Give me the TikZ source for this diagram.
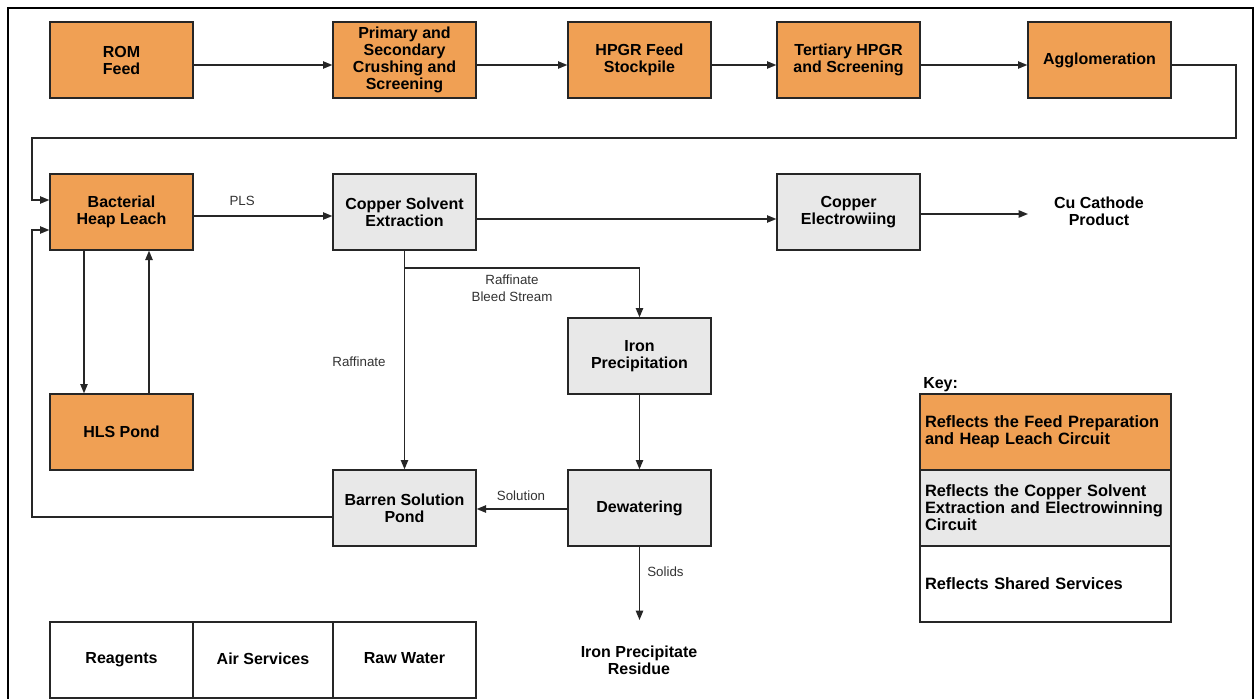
\documentclass[tikz,border=0pt]{standalone}
\usepackage{fontspec}
\setmainfont{Liberation Sans}
\usetikzlibrary{arrows.meta}
\definecolor{orng}{HTML}{F0A054}
\definecolor{lgray}{HTML}{E8E8E8}
\definecolor{lbl}{HTML}{333333}
\begin{document}
\begin{tikzpicture}[x=0.75pt,y=-0.75pt,
 box/.style={draw=black!85, line width=1pt, minimum width=107.25pt, minimum height=57pt, inner sep=0pt, align=center, font=\bfseries\fontsize{12}{12.75}\selectfont},
 ob/.style={box, fill=orng},
 gb/.style={box, fill=lgray},
 wb/.style={box, fill=white},
 keybox/.style={box, minimum width=188.25pt, text width=180.75pt, align=left, font=\bfseries\fontsize{12.3}{12.75}\selectfont},
 txt/.style={align=center, inner sep=0pt, font=\bfseries\fontsize{12}{12.75}\selectfont},
 lab/.style={inner sep=0pt, text=lbl, font=\fontsize{10}{12.75}\selectfont, align=center},
 flow/.style={draw=black!85, line width=1.05pt},
 arr/.style={flow, -{Triangle[length=7pt,width=5.5pt]}},
]
\useasboundingbox (0,0) rectangle (1256,699);
\clip (0,0) rectangle (1256,699);
\fill[white] (0,0) rectangle (1256,699);
\draw[line width=2pt] (8,720) -- (8,8) -- (1253,8) -- (1253,720);

% top row
\node[ob] (rom)  at (121.5,60) {ROM\\Feed};
\node[ob] (prim) at (404.5,60) {Primary and\\Secondary\\Crushing and\\Screening};
\node[ob] (hpgr) at (639.5,60) {HPGR Feed\\Stockpile};
\node[ob] (ter)  at (848.5,60) {Tertiary HPGR\\and Screening};
\node[ob] (agg)  at (1099.5,60) {Agglomeration};

% second row
\node[ob] (bact) at (121.5,212) {Bacterial\\Heap Leach};
\node[gb] (cse)  at (404.5,212) {Copper Solvent\\Extraction};
\node[gb] (cew)  at (848.5,212) {Copper\\Electrowiing};
\node[txt] (cu)  at (1099,211) {Cu Cathode\\Product};

\node[gb] (iron) at (639.5,356) {Iron\\Precipitation};
\node[ob] (hls)  at (121.5,432) {HLS Pond};
\node[gb] (bar)  at (404.5,508) {Barren Solution\\Pond};
\node[gb] (dew)  at (639.5,508) {Dewatering};
\node[txt] (res) at (639,660) {Iron Precipitate\\Residue};

% services
\node[wb, minimum width=107.25pt] (rea) at (121.5,660) {Reagents\vphantom{W}};
\node[wb, minimum width=105pt] (air) at (263,660) {Air Services\vphantom{g}};
\node[wb, minimum width=107.25pt] (raw) at (404.5,660) {Raw Water\vphantom{g}};

% key
\node[txt, anchor=west] (keyl) at (923,385) {Key:};
\node[keybox, fill=orng] (k1) at (1045.5,432) {Reflects the Feed Preparation\\and Heap Leach Circuit};
\node[keybox, fill=lgray] (k2) at (1045.5,508) {Reflects the Copper Solvent\\Extraction and Electrowinning\\Circuit};
\node[keybox, fill=white] (k3) at (1045.5,584) {Reflects Shared Services};

% helper coordinates
\coordinate (ytop) at (0,65);
\coordinate (ypls) at (0,216);
\coordinate (yext) at (0,219);
\coordinate (ycu) at (0,214);
\coordinate (y200) at (0,200);
\coordinate (y230) at (0,230);
\coordinate (y509) at (0,509);
\coordinate (y517) at (0,517);
\coordinate (xa) at (84,0);
\coordinate (xb) at (149,0);
\coordinate (xl) at (32,0);
\coordinate (a1) at (1236,65);
\coordinate (a2) at (1236,138);
\coordinate (a3) at (32,138);
\coordinate (cuin) at (1028,214);
\coordinate (br) at (405,268);
\coordinate (sol) at (639.5,620);

% top row flows
\draw[arr] (rom.east |- ytop) -- (prim.west |- ytop);
\draw[arr] (prim.east |- ytop) -- (hpgr.west |- ytop);
\draw[arr] (hpgr.east |- ytop) -- (ter.west |- ytop);
\draw[arr] (ter.east |- ytop) -- (agg.west |- ytop);
\draw[arr] (agg.east |- ytop) -- (a1) -- (a2) -- (a3) -- (xl |- y200) -- (bact.west |- y200);

% leach
\draw[arr] (bact.east |- ypls) -- node[lab, above=7pt, pos=0.35] {PLS} (cse.west |- ypls);
\draw[arr] (cse.east |- yext) -- (cew.west |- yext);
\draw[arr] (cew.east |- ycu) -- (cuin);
\draw[arr] (bact.south -| xa) -- (hls.north -| xa);
\draw[arr] (hls.north -| xb) -- (bact.south -| xb);

% raffinate
\draw[arr] (cse.south) -- (bar.north);
\node[lab] (raf) at (359,362) {Raffinate};
\draw[arr] (br) -- (iron.north |- br) -- (iron.north);
\node[lab] (bleed) at (512,288) {Raffinate\\Bleed Stream};
\draw[arr] (iron) -- (dew);
\draw[arr] (dew.west |- y509) -- (bar.east |- y509);
\node[lab] (soln) at (521,496) {Solution};
\draw[arr] (bar.west |- y517) -- (xl |- y517) -- (xl |- y230) -- (bact.west |- y230);
\draw[arr] (dew.south) -- (sol);
\node[lab, anchor=west] (solids) at (647,572) {Solids};
\end{tikzpicture}
\end{document}
